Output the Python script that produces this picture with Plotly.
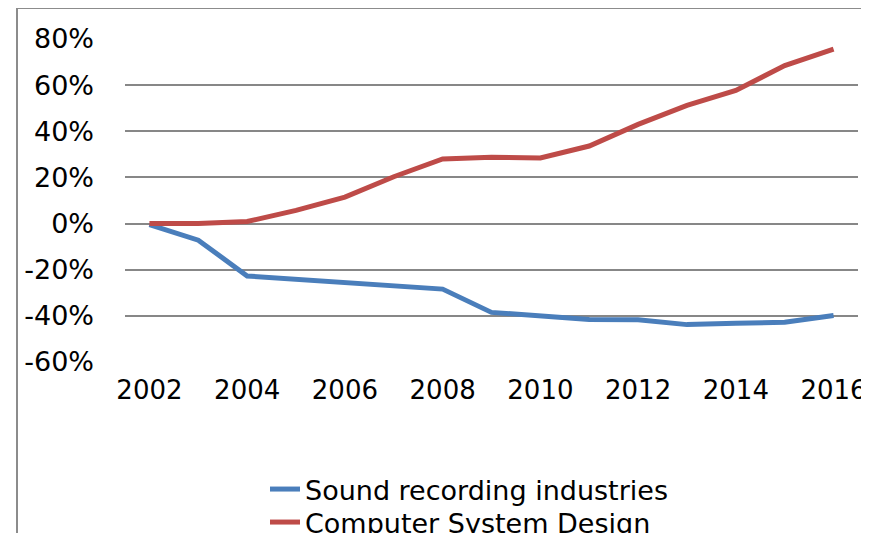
import plotly.graph_objects as go

years = [str(y) for y in range(2002, 2017)]
sound_recording = [-0.5, -7.2, -22.7, -24.0, -25.4, -26.7, -28.4, -38.5, -40.3, -41.6, -41.7, -43.8, -43.2, -42.8, -39.8]
computer_design = [0.0, 0.0, 0.9, 5.7, 11.5, 20.3, 28.0, 28.7, 28.4, 33.6, 43.0, 51.2, 57.7, 68.5, 75.6]
x_tick_labels = years[::2]
y_tick_values = [-60, -40, -20, 0, 20, 40, 60, 80]
y_tick_labels = ["-60%", "-40%", "-20%", "0%", "20%", "40%", "60%", "80%"]

FONT = "DejaVu Sans, Verdana, sans-serif"

fig = go.Figure()
fig.add_trace(go.Scatter(x=years, y=sound_recording, mode="lines",
                         name="Sound recording industries", legend="legend",
                         line=dict(color="#4A7EBB", width=5)))
fig.add_trace(go.Scatter(x=years, y=computer_design, mode="lines",
                         name="Computer System Design", legend="legend2",
                         line=dict(color="#BE4B48", width=5)))

# figure coordinates (page shows the figure offset by 8px body margin)
L, R, T, B = 117, 19, 31, 179
W, H = 869, 533
pw = W - L - R
ph = H - T - B
fx = lambda px: (px - L) / pw
fy = lambda py: (H - B - py) / ph

leg_common = dict(xanchor="left", yanchor="top", orientation="v",
                  bgcolor="rgba(0,0,0,0)", font=dict(size=27), itemwidth=30)

fig.update_layout(
    width=W, height=H,
    margin=dict(l=L, r=R, t=T, b=B, autoexpand=False),
    paper_bgcolor="white", plot_bgcolor="white",
    font=dict(family=FONT, size=26, color="#000000"),
    showlegend=True,
    legend=dict(x=fx(257), y=fy(457), **leg_common),
    legend2=dict(x=fx(257), y=fy(490), **leg_common),
    xaxis=dict(type="category", categoryorder="array", categoryarray=years,
               range=[-0.5, len(years) - 0.5],
               tickmode="array", tickvals=x_tick_labels, ticktext=x_tick_labels,
               showgrid=False, showline=False, zeroline=False, ticks="",
               automargin=False, ticklabelstandoff=10,
               tickfont=dict(size=26)),
    yaxis=dict(range=[-60, 80], tickmode="array", tickvals=y_tick_values,
               ticktext=y_tick_labels, showgrid=True, gridcolor="#878787",
               gridwidth=2, zeroline=False, showline=False, ticks="",
               automargin=False, ticklabelstandoff=30,
               tickfont=dict(size=27)),
    shapes=[
        dict(type="line", xref="paper", yref="paper",
             x0=fx(9), x1=fx(9), y0=fy(0), y1=fy(560),
             line=dict(color="#8C8C8C", width=2)),
        dict(type="line", xref="paper", yref="paper",
             x0=fx(9), x1=fx(900), y0=fy(0), y1=fy(0),
             line=dict(color="#8C8C8C", width=2)),
    ],
)

fig.write_html("out.html")
